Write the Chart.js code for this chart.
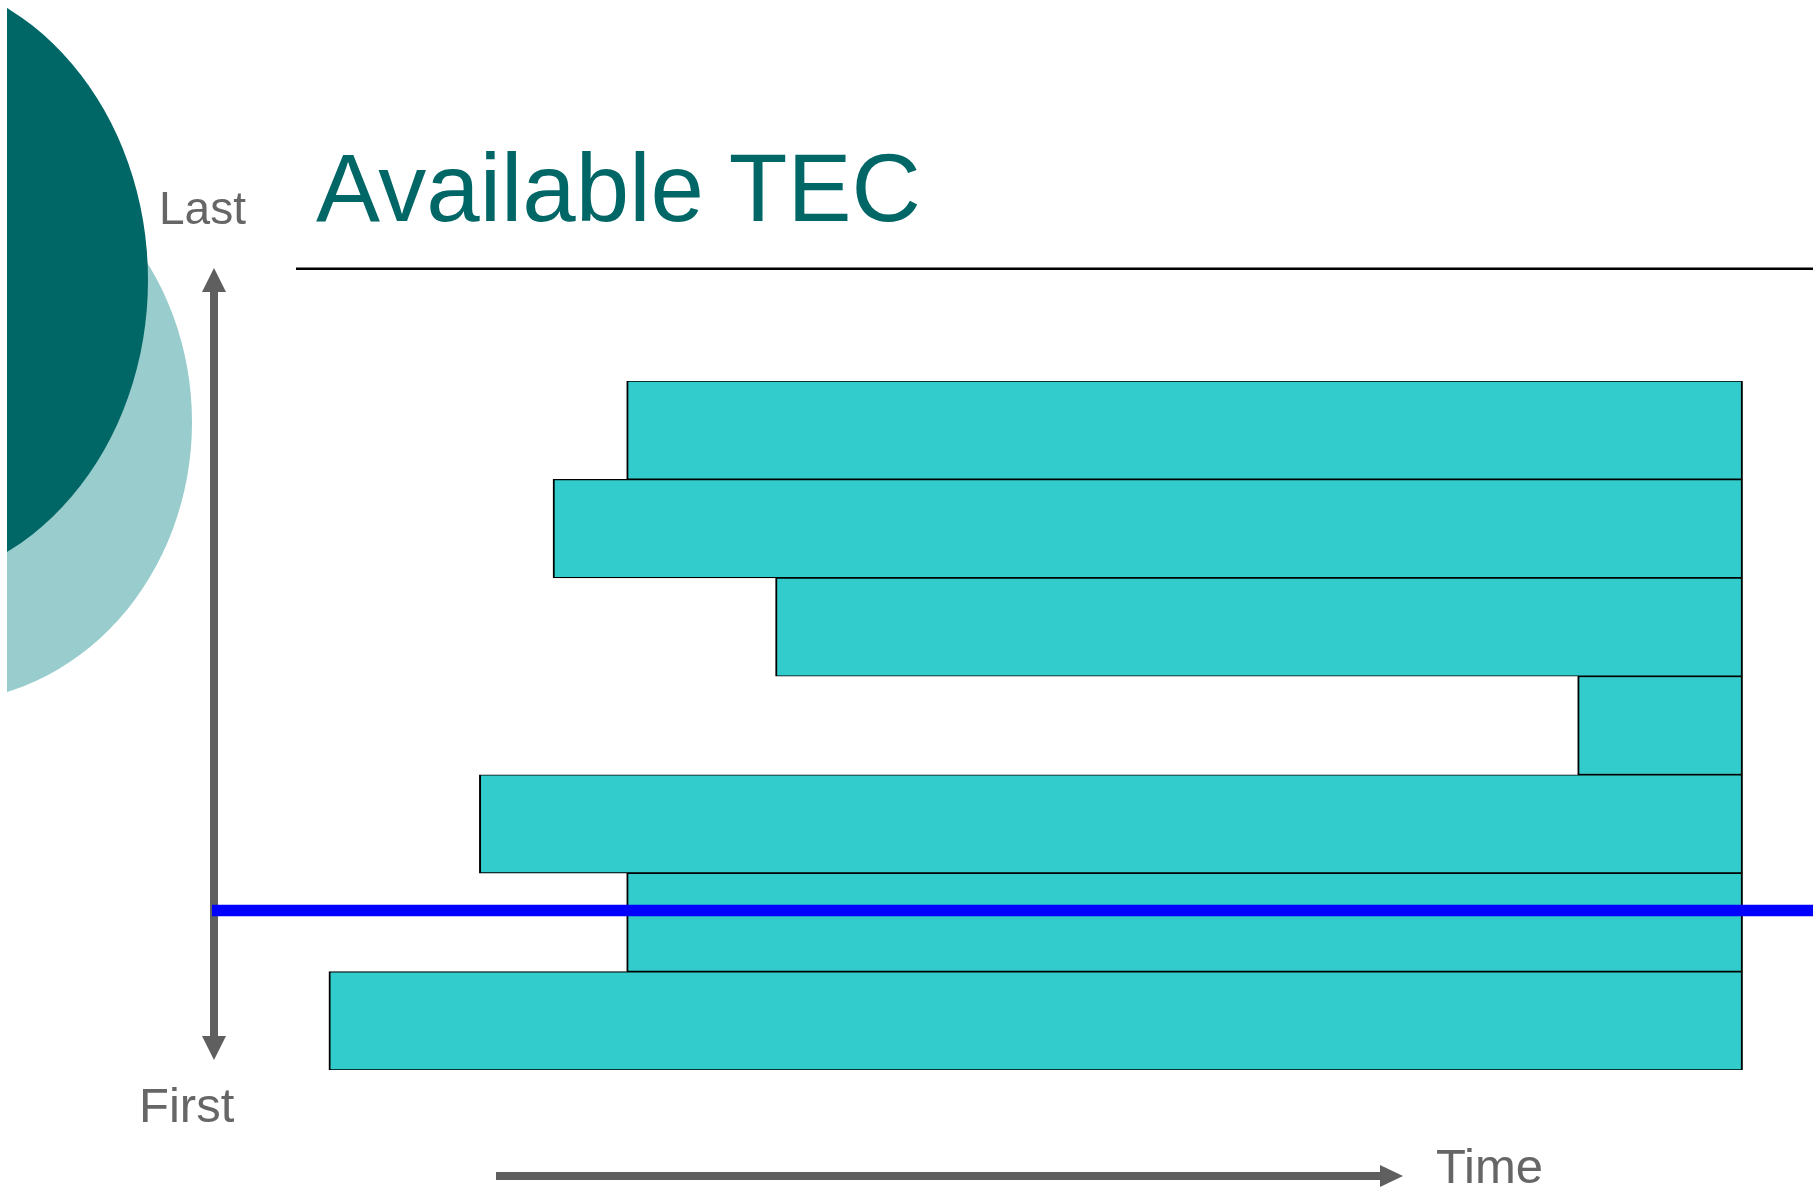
<!DOCTYPE html>
<html>
<head>
<meta charset="utf-8">
<title>Available TEC</title>
<script src="https://cdn.jsdelivr.net/npm/chart.js@4.4.1/dist/chart.umd.min.js"></script>
<style>
  html, body { margin: 0; padding: 0; background: #fff; }
  #wrap { position: relative; width: 1813px; height: 1188px; overflow: hidden; }
  .lbl { position: absolute; font-family: "Liberation Sans", Arial, sans-serif; line-height: 1; white-space: nowrap; }
  #title { left: 316px; top: 140px; font-size: 96px; color: #006666; }
  #last  { left: 159px; top: 185px; font-size: 46px; color: #666; }
  #first { left: 139px; top: 1081px; font-size: 49px; color: #666; }
  #time  { left: 1436px; top: 1142px; font-size: 49px; color: #666; }
</style>
</head>
<body>
<div id="wrap">
  <canvas id="tec"></canvas>
  <div class="lbl" id="title">Available TEC</div>
  <div class="lbl" id="last">Last</div>
  <div class="lbl" id="first">First</div>
  <div class="lbl" id="time">Time</div>
</div>
<script>
// rows from top (last) to bottom (first)
const rowLabels = ["TEC 7", "TEC 6", "TEC 5", "TEC 4", "TEC 3", "TEC 2", "TEC 1"];
const startTimes = [25.9, 21.3, 35.2, 85.3, 16.7, 25.9, 7.3];
const endTimes = [95.6, 95.6, 95.6, 95.6, 95.6, 95.6, 95.6];
const timeRange = [0, 100];
const nowRow = [4.88]; // where the blue line crosses the row axis

const grey = "#5f5f5f";

// background shapes, title rule and the two arrows
const decor = {
  id: "decor",
  beforeDraw(chart) {
    const ctx = chart.ctx;
    ctx.save();
    ctx.beginPath();
    ctx.rect(7, 0, 400, 1188);
    ctx.clip();
    ctx.fillStyle = "#99cccc";
    ctx.beginPath();
    ctx.ellipse(-60, 422, 252, 280, 0, 0, Math.PI * 2);
    ctx.fill();
    ctx.fillStyle = "#006666";
    ctx.beginPath();
    ctx.ellipse(-112, 280, 260, 306, 0, 0, Math.PI * 2);
    ctx.fill();
    ctx.restore();

    ctx.save();
    ctx.fillStyle = "#000";
    ctx.fillRect(296, 267.5, 1517, 2.5);

    // vertical arrow (Last / First)
    ctx.fillStyle = grey;
    ctx.fillRect(210, 290, 8, 748);
    ctx.beginPath();
    ctx.moveTo(214, 268); ctx.lineTo(226, 292); ctx.lineTo(202, 292); ctx.closePath();
    ctx.fill();
    ctx.beginPath();
    ctx.moveTo(214, 1060); ctx.lineTo(226, 1036); ctx.lineTo(202, 1036); ctx.closePath();
    ctx.fill();

    // time arrow
    ctx.fillRect(496, 1172, 886, 8);
    ctx.beginPath();
    ctx.moveTo(1403, 1176); ctx.lineTo(1380, 1165); ctx.lineTo(1380, 1187); ctx.closePath();
    ctx.fill();
    ctx.restore();
  },
  afterDatasetsDraw(chart) {
    const ctx = chart.ctx;
    const area = chart.chartArea;
    const y = chart.scales.y.getPixelForValue(nowRow[0]);
    ctx.save();
    ctx.strokeStyle = "#0000ff";
    ctx.lineWidth = 11.5;
    ctx.beginPath();
    ctx.moveTo(area.left, y);
    ctx.lineTo(area.right, y);
    ctx.stroke();
    ctx.restore();
  }
};

new Chart(document.getElementById("tec"), {
  type: "bar",
  data: {
    labels: rowLabels,
    datasets: [{
      data: startTimes.map((s, i) => [s, endTimes[i]]),
      backgroundColor: "#33cccc",
      borderColor: "#000000",
      borderWidth: { top: 1.2, bottom: 1.2, left: 2, right: 2 },
      borderSkipped: false,
      barPercentage: 1,
      categoryPercentage: 1
    }]
  },
  options: {
    indexAxis: "y",
    responsive: true,
    maintainAspectRatio: false,
    animation: false,
    events: [],
    layout: { padding: { left: 212, right: 0, top: 381, bottom: 118 } },
    scales: {
      x: { type: "linear", min: timeRange[0], max: timeRange[1], display: false },
      y: { display: false }
    },
    plugins: { legend: { display: false }, tooltip: { enabled: false } }
  },
  plugins: [decor]
});
</script>
</body>
</html>
